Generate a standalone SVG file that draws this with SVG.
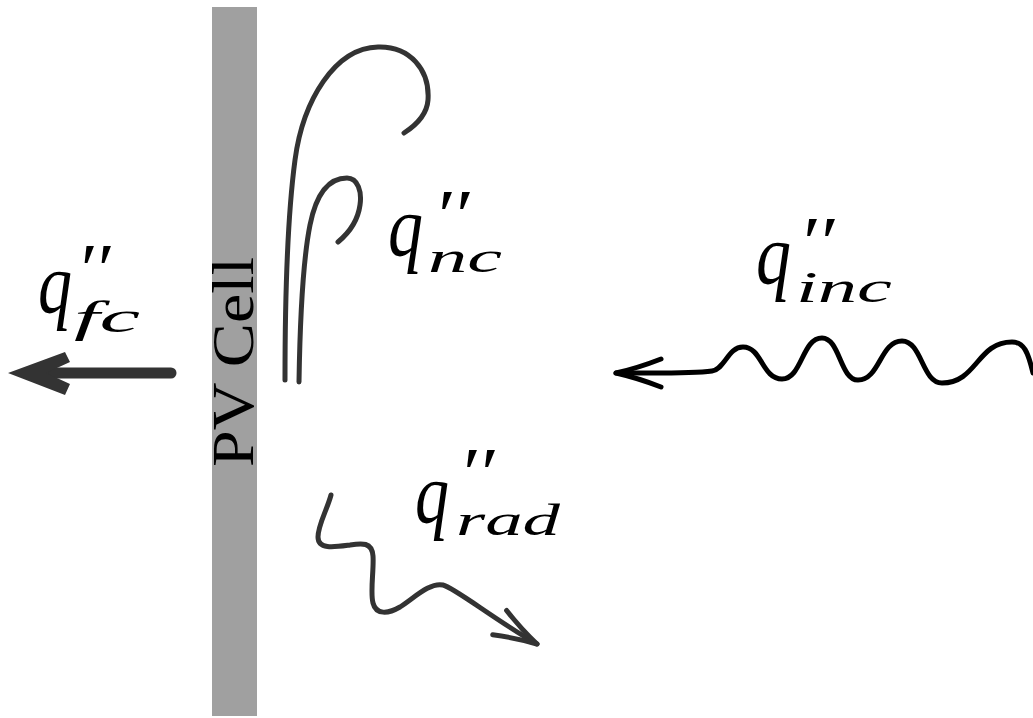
<svg xmlns="http://www.w3.org/2000/svg" width="1033" height="718" viewBox="0 0 1033 718">
<style>
.lbl{font-family:"Liberation Serif","Times New Roman",serif;font-style:italic;fill:#000}
.pv{font-family:"Liberation Serif","Times New Roman",serif;fill:#000}
.curve{fill:none;stroke:#333;stroke-width:5;stroke-linecap:round;stroke-linejoin:round}
.wave{fill:none;stroke:#000;stroke-width:5;stroke-linecap:round;stroke-linejoin:round}
.q{font-size:86px}
.pr{font-size:72px}
.sub{font-size:44px}
</style>
<defs>
<marker id="headBlack" markerUnits="userSpaceOnUse" markerWidth="60" markerHeight="40" refX="0" refY="0" viewBox="-50 -20 60 40" orient="auto" overflow="visible">
<path d="M-45,-14 Q-22,-5 0,0 Q-22,5 -45,14" fill="none" stroke="#000" stroke-width="5" stroke-linecap="round" stroke-linejoin="round"/>
</marker>
<marker id="headGray" markerUnits="userSpaceOnUse" markerWidth="60" markerHeight="40" refX="0" refY="0" viewBox="-50 -20 60 40" orient="auto" overflow="visible">
<path d="M-43,-14 Q-21,-5 0,0 Q-21,5 -43,14" fill="none" stroke="#333" stroke-width="5" stroke-linecap="round" stroke-linejoin="round"/>
</marker>
</defs>
<rect width="1033" height="718" fill="#fff"/>

<g id="pv-cell">
<rect x="212" y="7" width="45" height="709" fill="#a0a0a0"/>
<text class="pv" transform="translate(253,362) rotate(-90)" text-anchor="middle" font-size="60" textLength="210" lengthAdjust="spacingAndGlyphs">PV Cell</text>
</g>

<g id="connectors">
<g id="forced-convection-arrow">
<line x1="48" y1="373" x2="171" y2="373" stroke="#333" stroke-width="11" stroke-linecap="round"/>
<polygon points="8,373 65,352 70,362 46,373 70,384 65,395" fill="#333"/>
</g>
<path id="natural-convection-outer" class="curve" d="M285,380 C285,300 287,220 295,160 C303,100 335,48 378,47 C410,46 430,70 428,100 C427,114 418,124 404,133"/>
<path id="natural-convection-inner" class="curve" d="M299,382 C300,320 303,260 310,225 C316,195 328,178 347,178 C358,178 362,192 360,205 C358,220 350,232 338,242"/>
<path id="incident-wave" class="wave" marker-end="url(#headBlack)" d="M1033,373 C1028,352 1024,342 1012,342 C977,342 977,383 942,383 C922,383 922,341 902,341 C880,341 880,380 858,380 C840,380 840,338 822,338 C802,338 802,379 782,379 C762,379 762,347 743,347 C728,347 725,369 712,371 C690,374 650,373 616,373"/>
<path id="radiation-wave" class="curve" marker-end="url(#headGray)" d="M331,495 C327,510 318,525 318,537 C318,550 335,547 350,545 C362,543 372,542 373,556 C374,570 370,592 373,603 C376,615 388,614 400,607 C414,598 430,582 443,585 C455,588 495,620 537,644"/>
</g>

<g id="label-fc">
<text class="lbl"><tspan class="q" x="38" y="312" textLength="34" lengthAdjust="spacingAndGlyphs">q</tspan><tspan class="pr" x="76" y="293" textLength="34" lengthAdjust="spacingAndGlyphs">′′</tspan><tspan class="sub" x="74" y="332" textLength="66" lengthAdjust="spacingAndGlyphs">fc</tspan></text>
</g>
<g id="label-nc">
<text class="lbl"><tspan class="q" x="388" y="255" textLength="35" lengthAdjust="spacingAndGlyphs">q</tspan><tspan class="pr" x="433" y="239" textLength="36" lengthAdjust="spacingAndGlyphs">′′</tspan><tspan class="sub" x="428" y="272" textLength="74" lengthAdjust="spacingAndGlyphs">nc</tspan></text>
</g>
<g id="label-inc">
<text class="lbl"><tspan class="q" x="756" y="283" textLength="35" lengthAdjust="spacingAndGlyphs">q</tspan><tspan class="pr" x="798" y="266" textLength="36" lengthAdjust="spacingAndGlyphs">′′</tspan><tspan class="sub" x="796" y="302" textLength="96" lengthAdjust="spacingAndGlyphs">inc</tspan></text>
</g>
<g id="label-rad">
<text class="lbl"><tspan class="q" x="415" y="522" textLength="34" lengthAdjust="spacingAndGlyphs">q</tspan><tspan class="pr" x="458" y="497" textLength="36" lengthAdjust="spacingAndGlyphs">′′</tspan><tspan class="sub" x="456" y="535" textLength="104" lengthAdjust="spacingAndGlyphs">rad</tspan></text>
</g>
</svg>
